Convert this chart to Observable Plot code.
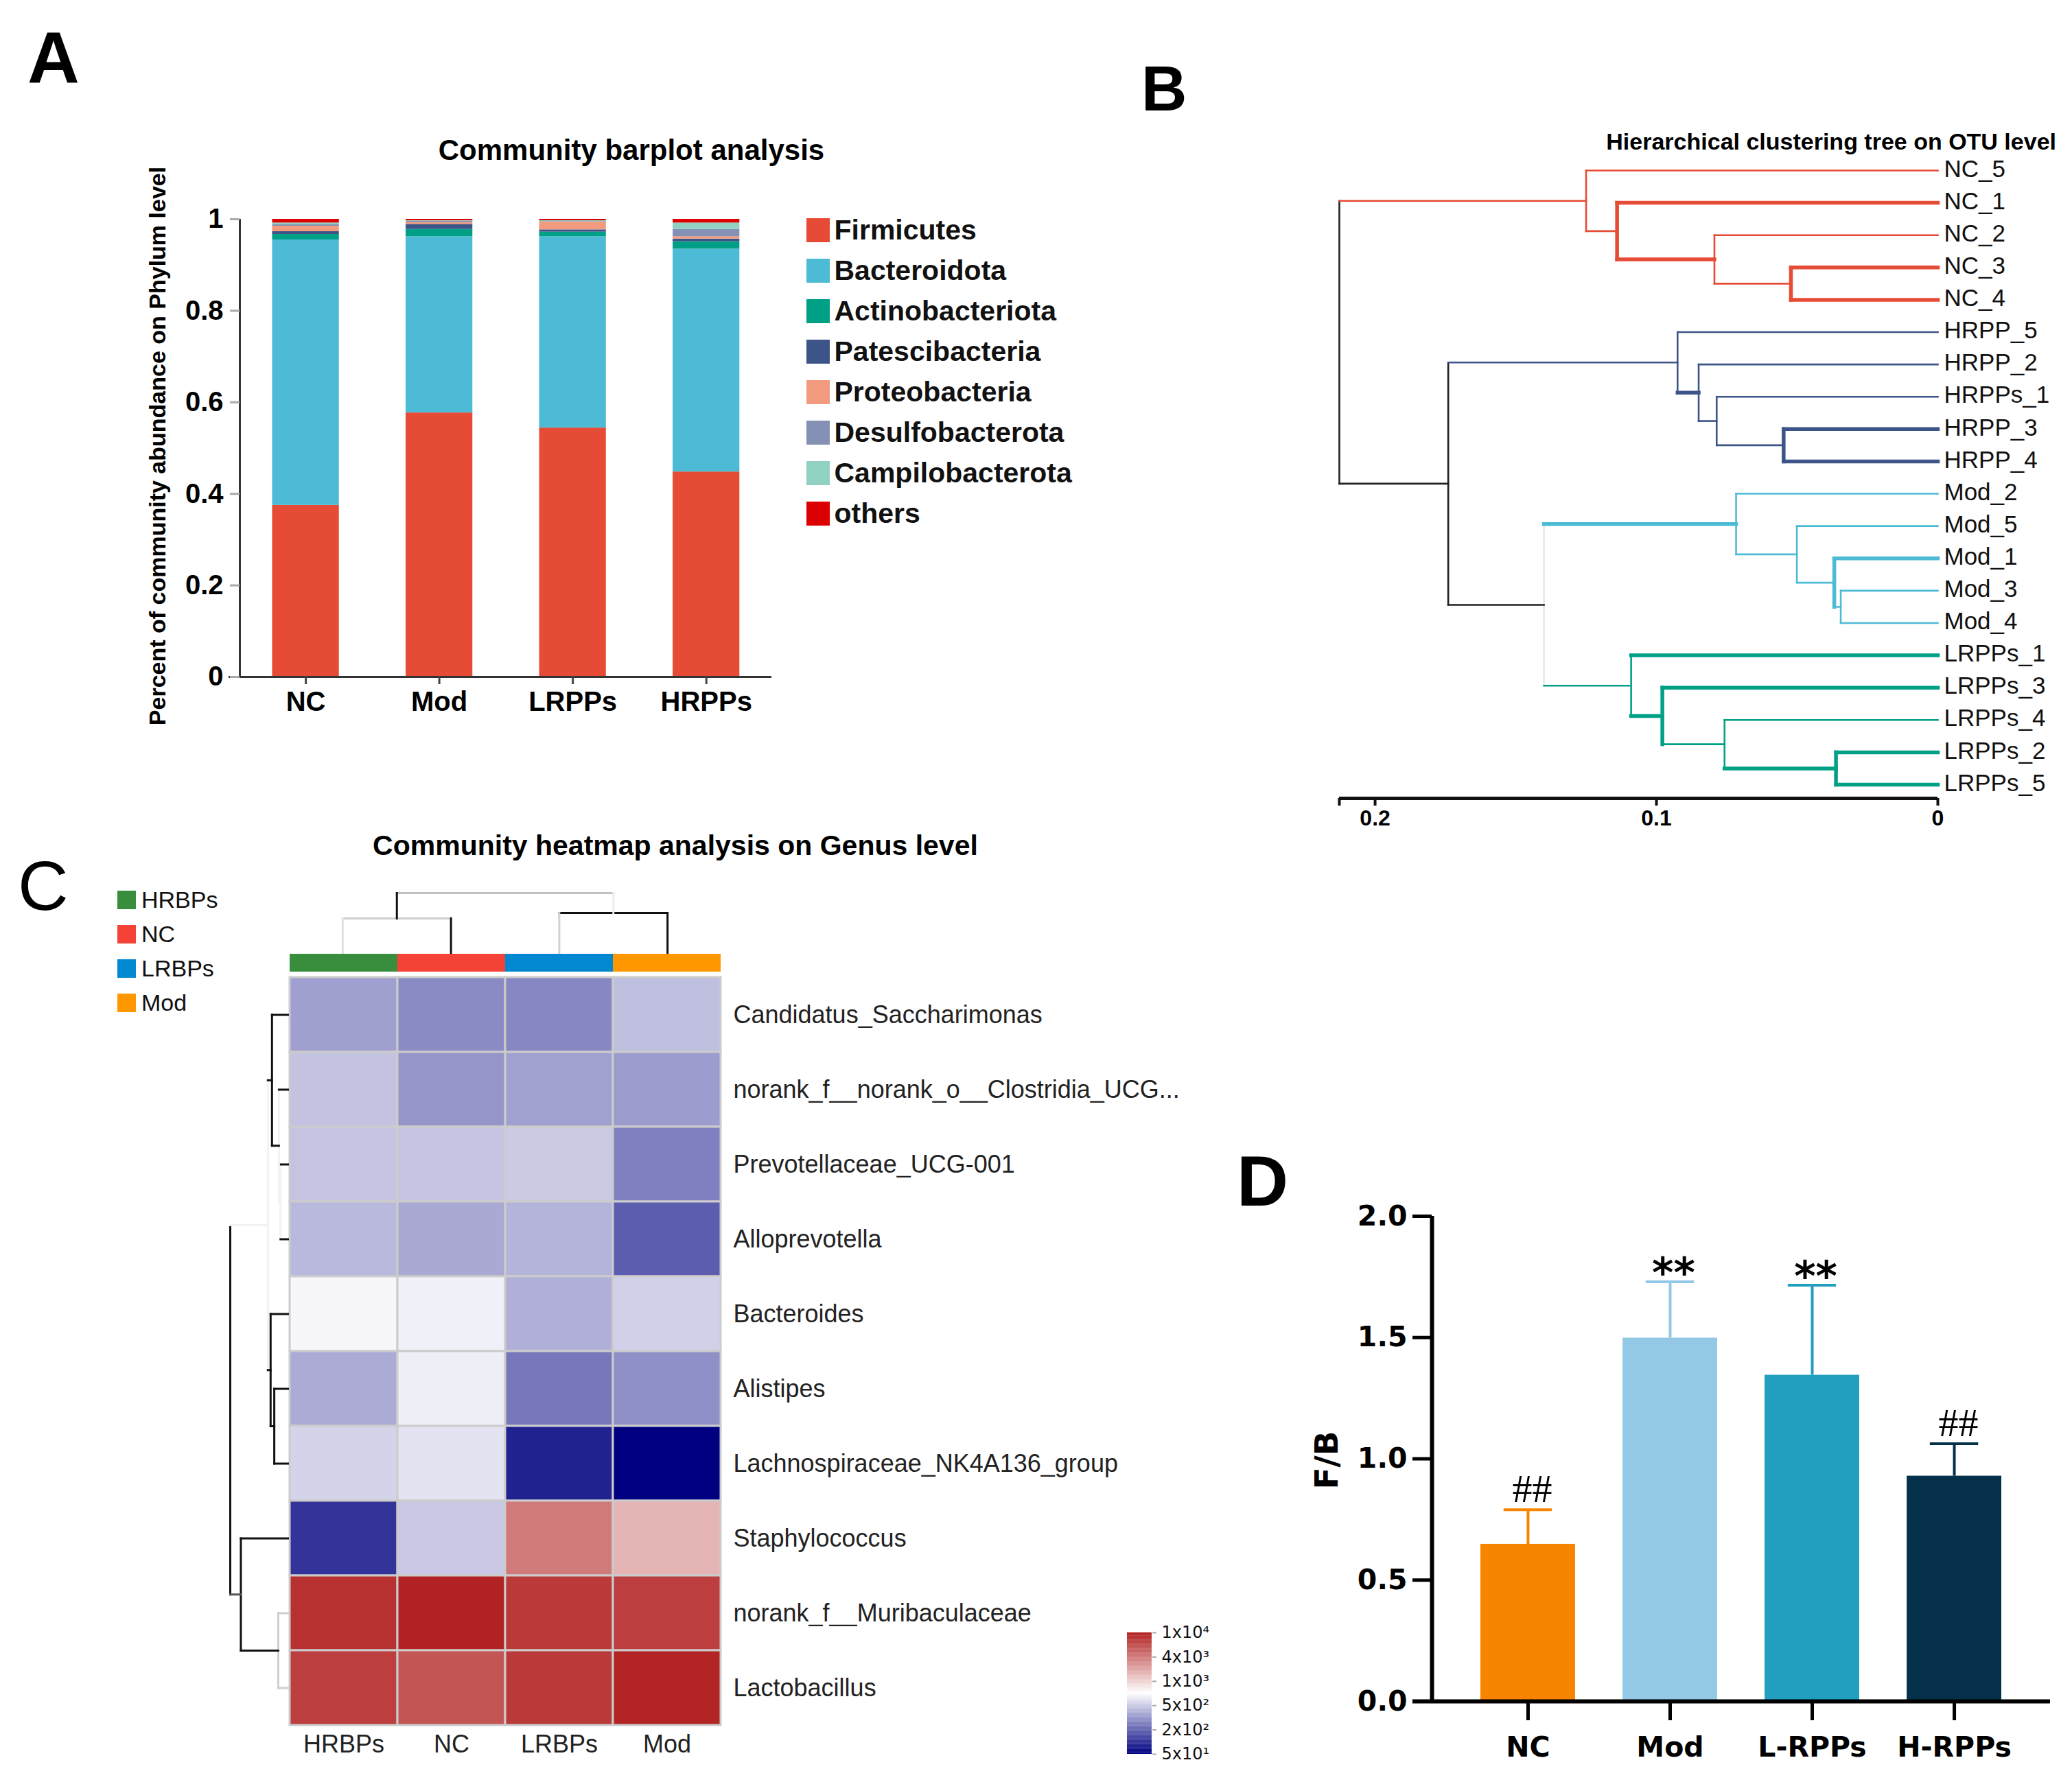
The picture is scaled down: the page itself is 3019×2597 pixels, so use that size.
<!DOCTYPE html>
<html><head><meta charset="utf-8">
<script src="https://cdn.jsdelivr.net/npm/d3@7"></script>
<script src="https://cdn.jsdelivr.net/npm/@observablehq/plot@0.6"></script>
<style>
html,body{margin:0;padding:0;background:#fff;}
#page{position:relative;width:3019px;height:2597px;overflow:hidden;background:#fff;}
</style></head>
<body><div id="page"></div>
<script>
// ---------------- DATA ----------------
// Panel A : community barplot (phylum level)
const groupsA = ["NC", "Mod", "LRPPs", "HRPPs"];
const phylaA = ["Firmicutes", "Bacteroidota", "Actinobacteriota", "Patescibacteria", "Proteobacteria", "Desulfobacterota", "Campilobacterota", "others"];
const colorsA = ["#e64b35", "#4dbbd5", "#00a087", "#3c5488", "#f39b7f", "#8491b4", "#91d1c2", "#dc0000"];
const abundNC    = [0.375, 0.580, 0.012, 0.006, 0.012, 0.003, 0.004, 0.008];
const abundMod   = [0.577, 0.385, 0.016, 0.011, 0.004, 0.003, 0.001, 0.003];
const abundLRPPs = [0.544, 0.418, 0.010, 0.005, 0.017, 0.001, 0.002, 0.003];
const abundHRPPs = [0.448, 0.487, 0.016, 0.006, 0.005, 0.016, 0.014, 0.008];
const ticksA = [0, 0.2, 0.4, 0.6, 0.8, 1];
const tickLabelsA = ["0", "0.2", "0.4", "0.6", "0.8", "1"];

// Panel B : hierarchical clustering tree
const leavesB = ["NC_5","NC_1","NC_2","NC_3","NC_4","HRPP_5","HRPP_2","HRPPs_1","HRPP_3","HRPP_4","Mod_2","Mod_5","Mod_1","Mod_3","Mod_4","LRPPs_1","LRPPs_3","LRPPs_4","LRPPs_2","LRPPs_5"];
const nodeB   = ["n1","n2","n3","NC","h1","h2","h3","HRPP","m1","m2","m3","Mod","l1","l2","l3","LRPPs","ML","HML","root"];
const leftB   = ["NC_3","NC_2","NC_1","NC_5","HRPP_3","HRPPs_1","HRPP_2","HRPP_5","Mod_3","Mod_1","Mod_5","Mod_2","LRPPs_2","LRPPs_4","LRPPs_3","LRPPs_1","Mod","HRPP","NC"];
const rightB  = ["NC_4","n1","n2","n3","HRPP_4","h1","h2","h3","Mod_4","m1","m2","m3","LRPPs_5","l1","l2","l3","LRPPs","ML","HML"];
const heightB = [0.0522,0.0794,0.114,0.125,0.0548,0.0786,0.085,0.0925,0.0345,0.0368,0.0501,0.0717,0.0362,0.0758,0.0979,0.109,0.140,0.174,0.2127];
const ticksB = [0.2127, 0.2, 0.1, 0];

// Panel C : heatmap (genus level)
const colsC = ["HRBPs", "NC", "LRBPs", "Mod"];
const colColorsC = ["#388e3c", "#f44336", "#0288d1", "#ff9800"];
const generaC = ["Candidatus_Saccharimonas","norank_f__norank_o__Clostridia_UCG...","Prevotellaceae_UCG-001","Alloprevotella","Bacteroides","Alistipes","Lachnospiraceae_NK4A136_group","Staphylococcus","norank_f__Muribaculaceae","Lactobacillus"];
const heatHRBPs = [334, 460, 466, 422, 665, 372, 525, 100, 8557, 7475];
const heatNC    = [276, 305, 470, 365, 639, 630, 584, 482, 10000, 5904];
const heatLRBPs = [269, 340, 489, 403, 385, 233, 78, 4018, 7886, 7797];
const heatMod   = [445, 325, 253, 177, 514, 292, 50, 1624, 7475, 9787];
// row clustering (genera)
const nodeR   = ["Y","X","C1","Z","C2","U","W","C3","rootR"];
const leftR   = ["Prevotellaceae_UCG-001","norank_f__norank_o__Clostridia_UCG...","Candidatus_Saccharimonas","Alistipes","Bacteroides","C1","norank_f__Muribaculaceae","Staphylococcus","U"];
const rightR  = ["Alloprevotella","Y","X","Lachnospiraceae_NK4A136_group","Z","C2","Lactobacillus","W","C3"];
const heightR = [1.07, 1.3, 2.3, 1.97, 2.5, 2.9, 1.4, 6.8, 8.33];
// column clustering (groups)
const nodeK   = ["a","b","rootK"];
const leftK   = ["HRBPs","LRBPs","a"];
const rightK  = ["NC","Mod","b"];
const heightK = [5.2, 6.0, 8.9];
// colour key
const keyValsC   = [50, 200, 500, Math.sqrt(500 * 1000), 1000, 4000, 10000];
const keyPosC    = [0, 0.2, 0.4, 0.5, 0.6, 0.8, 1];
const keyTicksC  = [1, 0.8, 0.6, 0.4, 0.2, 0];
const keyLabelsC = ["1x10\u2074", "4x10\u00b3", "1x10\u00b3", "5x10\u00b2", "2x10\u00b2", "5x10\u00b9"];

// Panel D : F/B ratio
const groupsD = ["NC", "Mod", "L-RPPs", "H-RPPs"];
const meanD = [0.648, 1.498, 1.345, 0.929];
const errD  = [0.142, 0.232, 0.371, 0.133];
const colorsD = ["#f88500", "#93c8e6", "#229fbe", "#04304a"];
const sigD = ["##", "**", "**", "##"];
const ticksD = [0, 0.5, 1, 1.5, 2];

// ---------------- HELPERS ----------------
const page = document.getElementById("page");
const SANS = "'Liberation Sans', Arial, Helvetica, sans-serif";
const DEJA = "'DejaVu Sans', 'Liberation Sans', sans-serif";
function fontOK(name) {
  const c = document.createElement("canvas").getContext("2d");
  const s = "abcdefghijklmnopqrstuvwxyzABCDEFG_0123";
  c.font = "40px monospace"; const w0 = c.measureText(s).width;
  c.font = `40px '${name}', monospace`; const w1 = c.measureText(s).width;
  return Math.abs(w0 - w1) > 0.5;
}
const narrow = fontOK("Liberation Sans Narrow");
const HMF = narrow ? "'Liberation Sans Narrow', 'Liberation Sans', sans-serif" : SANS;
const HMS = narrow ? 42 : 36;

function place(el, left, top, font) {
  el.style.position = "absolute";
  el.style.left = left + "px";
  el.style.top = top + "px";
  el.style.background = "transparent";
  el.style.maxWidth = "none";
  el.style.overflow = "visible";
  el.style.color = "#000";
  el.style.fontFamily = font || SANS;
  page.appendChild(el);
  return el;
}
function buildTree(leaves, nodes, lefts, rights, heights, groupOf) {
  const pos = new Map(leaves.map((l, i) => [l, {h: 0, c: i, g: groupOf ? groupOf(l) : null}]));
  const segs = [];
  nodes.forEach((n, k) => {
    const a = pos.get(lefts[k]), b = pos.get(rights[k]), h = heights[k];
    pos.set(n, {h, c: (a.c + b.c) / 2, g: a.g && a.g === b.g ? a.g : null});
    segs.push({kind: "v", id: n, g: pos.get(n).g, h1: h, h2: h, c1: a.c, c2: b.c});
    segs.push({kind: "h", id: lefts[k], g: a.g, h1: a.h, h2: h, c1: a.c, c2: a.c});
    segs.push({kind: "h", id: rights[k], g: b.g, h1: b.h, h2: h, c1: b.c, c2: b.c});
  });
  return segs;
}

// ---------------- PANEL A ----------------
const stackA = [];
[abundNC, abundMod, abundLRPPs, abundHRPPs].forEach((vals, gi) => {
  let acc = 0;
  vals.forEach((v, pi) => { stackA.push({gi, phylum: phylaA[pi], y1: acc, y2: acc + v}); acc += v; });
});
const xA = [-0.494, 3.49];
place(Plot.plot({
  width: 1160, height: 1100, marginLeft: 349, marginRight: 36, marginTop: 319, marginBottom: 114,
  x: {domain: xA, label: null},
  y: {domain: [0, 1], label: null},
  color: {domain: phylaA, range: colorsA},
  marks: [
    Plot.rectY(stackA, {x1: d => d.gi - 0.25, x2: d => d.gi + 0.25, y1: "y1", y2: "y2", fill: "phylum"}),
    Plot.ruleY([0], {x1: xA[0] - 0.082, x2: xA[1], stroke: "#333", strokeWidth: 3}),
    Plot.ruleX([xA[0]], {y1: 0, y2: 1, stroke: "#333", strokeWidth: 3}),
    Plot.axisY({ticks: ticksA, tickFormat: d => tickLabelsA[ticksA.indexOf(d)], tickSize: 14, tickPadding: 10, stroke: "#aaa", strokeWidth: 3, fontSize: 40, fontWeight: "bold"}),
    Plot.axisX({ticks: [0, 1, 2, 3], tickFormat: d => groupsA[d], tickSize: 11, tickPadding: 10, stroke: "#444", strokeWidth: 3, fontSize: 40, fontWeight: "bold"})
  ]
}), 0, 0);

// legend A
place(Plot.plot({
  width: 480, height: 600, marginLeft: 15, marginRight: 431, marginTop: 45, marginBottom: 52,
  x: {type: "band", domain: ["s"], padding: 0, axis: null, label: null},
  y: {type: "band", domain: phylaA, padding: 0.4, axis: null, label: null},
  color: {domain: phylaA, range: colorsA},
  marks: [
    Plot.cell(phylaA, {x: () => "s", y: d => d, fill: d => d, inset: 0}),
    Plot.text(phylaA, {x: () => "s", y: d => d, text: d => d, textAnchor: "start", dx: 23, fontSize: 41, fontWeight: "bold", fill: "#111"})
  ]
}), 1160, 246);

// ---------------- PANEL B ----------------
const groupColorB = {NC: "#e64b35", HRPP: "#3c5488", Mod: "#4dbbd5", LRPPs: "#00a087"};
const groupOfB = l => l.startsWith("NC") ? "NC" : l.startsWith("HRPP") ? "HRPP" : l.startsWith("Mod") ? "Mod" : "LRPPs";
const thickB = new Set(["h:NC_1","v:n3","h:n2","v:n1","h:NC_3","h:NC_4","h:h3","v:h1","h:HRPP_3","h:HRPP_4","h:Mod","v:m2","h:Mod_1","h:LRPPs_1","v:l3","h:l3","h:LRPPs_3","h:l1","v:l1","h:LRPPs_2","h:LRPPs_5"]);
const segsB = buildTree(leavesB, nodeB, leftB, rightB, heightB, groupOfB).map(s => {
  const key = s.kind + ":" + s.id;
  let color = groupColorB[s.g] || "#222";
  if (key === "v:ML") color = "#e6e6e6";
  return {...s, color, w: thickB.has(key) ? 5.5 : 2.6};
});
const yDomB = [-0.425, leavesB.length - 1 + 0.425];
place(Plot.plot({
  width: 1369, height: 1250, marginLeft: 301, marginRight: 196, marginTop: 228, marginBottom: 87,
  x: {domain: [0.2127, 0], label: null},
  y: {domain: yDomB, reverse: true, axis: null, label: null},
  color: {type: "identity"},
  marks: [
    Plot.link(segsB, {x1: "h1", x2: "h2", y1: "c1", y2: "c2", stroke: "color", strokeWidth: "w", strokeLinecap: "square", curve: "linear"}),
    Plot.text(leavesB, {x: () => 0, y: (d, i) => i, text: d => d, textAnchor: "start", dx: 9, dy: -2, fontSize: 35, fill: "#111"}),
    Plot.ruleY([yDomB[1]], {stroke: "#111", strokeWidth: 5}),
    Plot.axisX({ticks: ticksB, tickFormat: d => d > 0.205 ? "" : d === 0 ? "0" : d3.format(".1f")(d), tickSize: 11, tickPadding: 6, stroke: "#111", strokeWidth: 4, fontSize: 32, fontWeight: "bold"})
  ]
}), 1650, 0);

// ---------------- PANEL C ----------------
const heatCols = [heatHRBPs, heatNC, heatLRBPs, heatMod];
const cellsC = [];
generaC.forEach((g, r) => colsC.forEach((c, j) => cellsC.push({genus: g, col: c, value: heatCols[j][r]})));
const gradC = t => t < 0.5 ? d3.interpolateRgb("#000080", "#ffffff")(t / 0.5) : d3.interpolateRgb("#ffffff", "#b22222")((t - 0.5) / 0.5);
const colorC = {type: "log", domain: keyValsC, range: keyPosC.map(gradC)};

place(Plot.plot({
  width: 1800, height: 1397, marginLeft: 420, marginRight: 749, marginTop: 224, marginBottom: 83,
  x: {type: "band", domain: colsC, padding: 0, label: null},
  y: {type: "band", domain: generaC, padding: 0, label: null},
  color: colorC,
  marks: [
    Plot.cell(cellsC, {x: "col", y: "genus", fill: "value", stroke: "#cccccc", strokeWidth: 3, inset: 0}),
    Plot.axisX({anchor: "bottom", tickSize: 0, tickPadding: 14, fontSize: HMS, fontFamily: HMF, fill: "#222"}),
    Plot.axisY({anchor: "right", tickSize: 0, tickPadding: 17, fontSize: HMS, fontFamily: HMF, fill: "#222"})
  ]
}), 0, 1200, HMF);

// row dendrogram
const faintR = {"v:Y": "#f2f2f2", "v:X": "#f2f2f2", "v:U": "#f2f2f2", "h:U": "#f2f2f2", "h:Y": "#f2f2f2",
  "v:W": "#cfcfcf", "h:norank_f__Muribaculaceae": "#cfcfcf", "h:Lactobacillus": "#cfcfcf", "h:C3": "#555"};
const segsR = buildTree(generaC, nodeR, leftR, rightR, heightR).map(s => ({...s, color: faintR[s.kind + ":" + s.id] || "#111"}));
place(Plot.plot({
  width: 430, height: 1397, marginLeft: 335, marginRight: 11, marginTop: 224, marginBottom: 83,
  x: {domain: [8.33, 0], axis: null, label: null},
  y: {domain: [-0.5, generaC.length - 0.5], reverse: true, axis: null, label: null},
  color: {type: "identity"},
  marks: [Plot.link(segsR, {x1: "h1", x2: "h2", y1: "c1", y2: "c2", stroke: "color", strokeWidth: 3, strokeLinecap: "square", curve: "linear"})]
}), 0, 1200);

// column dendrogram
const styleK = {"h:HRBPs": "#e2e2e2", "h:LRBPs": "#d2d2d2", "h:b": "#ececec", "v:a": "#d0d0d0", "v:rootK": "#c2c2c2"};
const segsK = buildTree(colsC, nodeK, leftK, rightK, heightK).map(s => ({...s, color: styleK[s.kind + ":" + s.id] || "#111"}));
place(Plot.plot({
  width: 1800, height: 200, marginLeft: 420, marginRight: 749, marginTop: 101, marginBottom: 10,
  x: {domain: [-0.5, colsC.length - 0.5], axis: null, label: null},
  y: {domain: [0, 8.9], axis: null, label: null},
  color: {type: "identity"},
  marks: [Plot.link(segsK, {x1: "c1", x2: "c2", y1: "h1", y2: "h2", stroke: "color", strokeWidth: 3, strokeLinecap: "square", curve: "linear"})]
}), 0, 1200);

// column colour bar
place(Plot.plot({
  width: 1800, height: 26, marginLeft: 420, marginRight: 749, marginTop: 0, marginBottom: 0,
  x: {type: "band", domain: colsC, padding: 0, axis: null, label: null},
  color: {domain: colsC, range: colColorsC},
  marks: [Plot.cell(colsC, {x: d => d, fill: d => d, inset: 0})]
}), 0, 1390);

// group legend C
place(Plot.plot({
  width: 300, height: 240, marginLeft: 21, marginRight: 252, marginTop: 3, marginBottom: 11,
  x: {type: "band", domain: ["s"], padding: 0, axis: null, label: null},
  y: {type: "band", domain: colsC, padding: 0.47, axis: null, label: null},
  color: {domain: colsC, range: colColorsC},
  marks: [
    Plot.cell(colsC, {x: () => "s", y: d => d, fill: d => d, inset: 0}),
    Plot.text(colsC, {x: () => "s", y: d => d, text: d => d, textAnchor: "start", dx: 21, fontSize: HMS - 2, fontFamily: HMF, fill: "#111"})
  ]
}), 150, 1270, HMF);

// colour key C
const gradSteps = d3.range(0, 1, 1 / 150);
const tToLog = d3.scaleLinear().domain(keyPosC).range(keyValsC.map(Math.log10));
place(Plot.plot({
  width: 260, height: 257, marginLeft: 42, marginRight: 182, marginTop: 39, marginBottom: 41,
  x: {type: "band", domain: ["g"], padding: 0, axis: null, label: null},
  y: {domain: [0, 1], label: null},
  color: colorC,
  marks: [
    Plot.barY(gradSteps, {x: () => "g", y1: t => t, y2: t => Math.min(1, t + 1 / 150 + 0.002), fill: t => Math.pow(10, tToLog(t + 0.5 / 150)), inset: 0}),
    Plot.axisY({anchor: "right", ticks: keyTicksC, tickFormat: d => keyLabelsC[keyTicksC.indexOf(d)], tickSize: 6, tickPadding: 8, stroke: "#aaa", strokeWidth: 2, fontSize: 24, fontFamily: DEJA, fill: "#111"})
  ]
}), 1600, 2340, DEJA);

// ---------------- PANEL D ----------------
const dataD = groupsD.map((g, i) => ({i, g, m: meanD[i], top: meanD[i] + errD[i], sig: sigD[i]}));
const xD = [-0.676, 3.676];
place(Plot.plot({
  width: 1239, height: 957, marginLeft: 306, marginRight: 32, marginTop: 132, marginBottom: 118,
  x: {domain: xD, label: null},
  y: {domain: [0, 2], label: null},
  color: {domain: groupsD, range: colorsD},
  marks: [
    Plot.rectY(dataD, {x1: d => d.i - 0.333, x2: d => d.i + 0.333, y1: 0, y2: "m", fill: "g"}),
    Plot.ruleX(dataD, {x: "i", y1: "m", y2: "top", stroke: "g", strokeWidth: 4}),
    Plot.ruleY(dataD, {y: "top", x1: d => d.i - 0.17, x2: d => d.i + 0.17, stroke: "g", strokeWidth: 4}),
    Plot.ruleY([0], {x1: xD[0] - 0.135, x2: xD[1], stroke: "#000", strokeWidth: 6}),
    Plot.ruleX([xD[0]], {y1: 0, y2: 2, stroke: "#000", strokeWidth: 6}),
    Plot.axisY({ticks: ticksD, tickFormat: d3.format(".1f"), tickSize: 28, tickPadding: 8, stroke: "#000", strokeWidth: 5, fontSize: 41, fontWeight: "bold", fontFamily: DEJA}),
    Plot.axisX({ticks: [0, 1, 2, 3], tickFormat: d => groupsD[d], tickSize: 28, tickPadding: 23, stroke: "#000", strokeWidth: 5, fontSize: 41, fontWeight: "bold", fontFamily: DEJA}),
    Plot.text(dataD.filter(d => d.sig === "##"), {x: "i", y: "top", text: "sig", lineAnchor: "bottom", dx: 6, dy: -11, fontSize: 58, fontFamily: "'Liberation Serif', serif", fill: "#000"}),
    Plot.text(dataD.filter(d => d.sig === "**"), {x: "i", y: "top", text: "sig", lineAnchor: "bottom", dx: 5, dy: 8, fontSize: 60, fontWeight: "bold", fontFamily: DEJA, fill: "#000"})
  ]
}), 1780, 1640, DEJA);

// ---------------- FREE TEXT (letters, titles, rotated labels) ----------------
const ov = d3.create("svg").attr("width", 3019).attr("height", 2597)
  .style("position", "absolute").style("left", "0px").style("top", "0px").style("overflow", "visible");
function T(x, y, txt, size, weight, anchor, family, rotate) {
  const t = ov.append("text").text(txt)
    .attr("font-size", size).attr("font-weight", weight).attr("text-anchor", anchor)
    .attr("font-family", family || SANS).attr("fill", "#000");
  if (rotate) t.attr("transform", `translate(${x},${y}) rotate(${rotate})`);
  else t.attr("x", x).attr("y", y);
}
T(40, 121, "A", 105, "bold", "start");
T(1663, 161, "B", 92, "bold", "start");
T(26, 1326, "C", 102, "normal", "start");
T(1802, 1757, "D", 104, "bold", "start");
T(920, 233, "Community barplot analysis", 42, "bold", "middle");
T(2996, 218, "Hierarchical clustering tree on OTU level", 34, "bold", "end");
T(984, 1246, "Community heatmap analysis on Genus level", 41, "bold", "middle");
T(241, 650, "Percent of community abundance on Phylum level", 34, "bold", "middle", SANS, -90);
T(1949, 2128, "F/B", 47, "bold", "middle", DEJA, -90);
page.appendChild(ov.node());
</script>
</body></html>
